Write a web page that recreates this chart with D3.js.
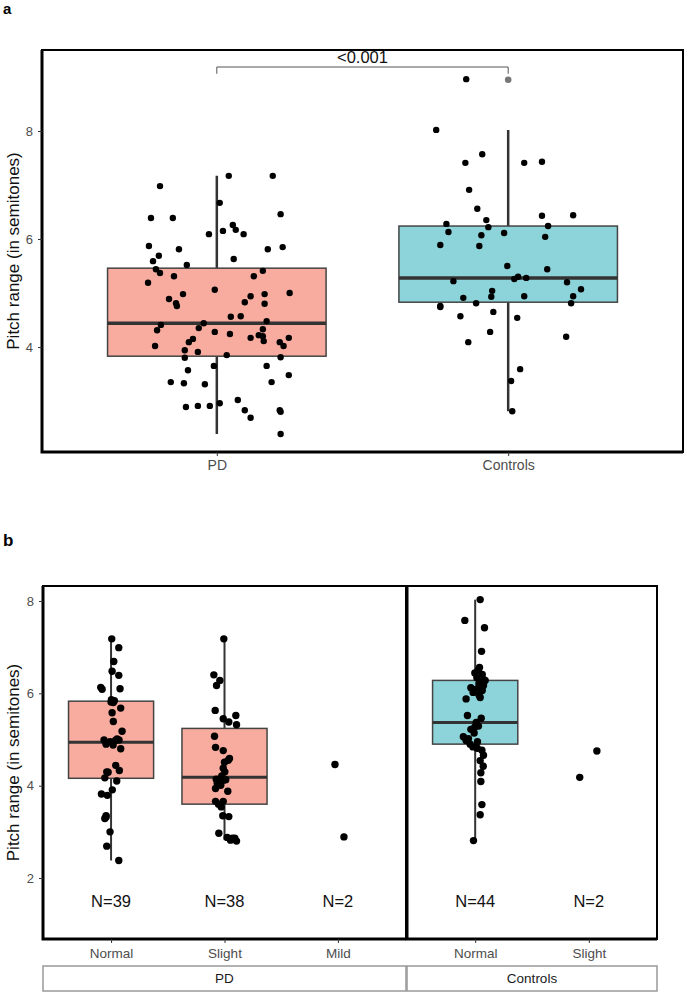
<!DOCTYPE html>
<html>

<head>
  <meta charset="utf-8">
  <script src="https://d3js.org/d3.v7.min.js"></script>

  <style>
    body {
      margin: 0;
      background: #fff;
    }

    text {
      font-family: "Liberation Sans", Arial, sans-serif;
    }

    .tick text {
      fill: #4d4d4d;
    }

    .tick line {
      stroke: #333;
    }
  </style>
</head>

<body>
  <script type="text/javascript">
    /*
      Data
    */

    // panel a: [jitter offset (in category steps), pitch range]
    var groupsA = ["PD", "Controls"];

    var pdA = [
      [-0.195, 6.98], [-0.226, 6.39], [-0.151, 6.39], [0.041, 7.17], [0.192, 7.17],
      [0.010, 6.67], [0.219, 6.46], [0.055, 6.26], [0.065, 6.17], [0.092, 6.09],
      [0.021, 6.15], [-0.027, 6.09], [-0.233, 5.87], [0.175, 5.81], [0.226, 5.85],
      [-0.130, 5.81], [-0.219, 5.59], [-0.199, 5.69], [0.058, 5.63], [-0.103, 5.52],
      [-0.209, 5.44], [-0.195, 5.37], [-0.236, 5.19], [-0.147, 5.31], [0.127, 5.31],
      [0.158, 5.41], [-0.007, 5.06], [-0.116, 4.98], [0.164, 4.98], [0.250, 5.00],
      [-0.164, 4.89], [-0.140, 4.81], [-0.137, 4.76], [0.116, 4.94], [0.096, 4.83],
      [0.164, 4.80], [0.048, 4.56], [0.082, 4.57], [0.171, 4.48], [-0.045, 4.44],
      [-0.192, 4.41], [-0.205, 4.31], [-0.062, 4.35], [-0.007, 4.28], [0.158, 4.33],
      [0.045, 4.24], [0.144, 4.22], [0.158, 4.20], [0.116, 4.17], [0.247, 4.17],
      [-0.082, 4.15], [-0.096, 4.09], [0.161, 4.11], [0.216, 4.09], [-0.212, 4.02],
      [0.229, 4.02], [-0.110, 3.94], [-0.065, 3.91], [0.034, 3.85], [-0.110, 3.80],
      [0.219, 3.81], [-0.099, 3.57], [-0.010, 3.65], [0.171, 3.65], [0.247, 3.48],
      [-0.158, 3.35], [-0.113, 3.33], [-0.041, 3.31], [0.188, 3.35], [-0.106, 2.89],
      [-0.065, 2.91], [-0.024, 2.91], [0.010, 2.96], [0.072, 3.02], [0.096, 2.83],
      [0.116, 2.69], [0.216, 2.83], [0.219, 2.80], [0.219, 2.39]
    ];

    var controlsA = [
      [-0.144, 8.96], [-0.247, 8.02], [-0.089, 7.57], [-0.147, 7.41], [0.055, 7.41],
      [0.116, 7.43], [-0.134, 6.91], [-0.106, 6.56], [0.116, 6.43], [0.223, 6.44],
      [-0.075, 6.35], [-0.212, 6.28], [-0.068, 6.22], [0.137, 6.24], [-0.205, 6.13],
      [-0.014, 6.11], [-0.092, 6.07], [0.127, 6.04], [-0.233, 5.89], [-0.099, 5.87],
      [-0.003, 5.50], [0.134, 5.44], [-0.188, 5.22], [0.021, 5.26], [0.034, 5.30],
      [0.062, 5.28], [0.202, 5.20], [-0.055, 5.04], [-0.154, 4.91], [-0.058, 4.93],
      [0.055, 4.94], [0.250, 5.07], [0.223, 4.94], [-0.110, 4.81], [0.216, 4.81],
      [-0.233, 4.76], [-0.233, 4.74], [-0.051, 4.65], [-0.164, 4.57], [0.031, 4.54],
      [-0.062, 4.28], [0.199, 4.19], [-0.137, 4.09], [0.041, 3.59], [0.010, 3.37],
      [0.014, 2.81]
    ];

    // box stats: [lower whisker, q1, median, q3, upper whisker]
    var boxA = [
      [2.39, 3.83, 4.44, 5.46, 7.17],
      [2.81, 4.83, 5.28, 6.24, 8.02]
    ];
    var outliersA = [["Controls", 8.95]];
    var pLabel = "<0.001";

    // panel b
    var facetsB = ["PD", "Controls"];
    var severityPD = ["Normal", "Slight", "Mild"];
    var severityControls = ["Normal", "Slight"];

    var pdNormal = [
      [0.006, 7.18], [0.068, 6.99], [0.024, 6.69], [0.009, 6.48], [0.068, 6.39],
      [-0.091, 6.13], [-0.079, 6.09], [0.079, 6.10], [0.003, 5.86], [0.029, 5.84],
      [0.020, 5.80], [0.000, 5.81], [0.085, 5.68], [0.009, 5.58], [0.020, 5.39],
      [0.097, 5.18], [-0.062, 4.99], [0.070, 4.99], [0.053, 5.01], [-0.044, 4.90],
      [-0.009, 4.95], [0.038, 4.98], [0.085, 4.80], [0.018, 4.88], [0.041, 4.44],
      [0.073, 4.33], [-0.038, 4.30], [-0.026, 4.29], [-0.055, 4.17], [0.050, 4.10],
      [0.011, 3.91], [-0.085, 3.82], [-0.033, 3.79], [-0.044, 3.35], [-0.055, 3.29],
      [-0.044, 3.32], [-0.009, 3.00], [-0.038, 2.69], [0.068, 2.38]
    ];
    var pdSlight = [
      [-0.006, 7.18], [-0.094, 6.40], [-0.041, 6.28], [-0.070, 6.17], [-0.082, 5.63],
      [-0.011, 5.45], [0.038, 5.38], [0.100, 5.52], [0.106, 5.32], [-0.088, 5.07],
      [-0.079, 4.83], [-0.011, 4.76], [0.044, 4.59], [0.033, 4.55], [-0.011, 4.38],
      [0.003, 4.30], [-0.024, 4.21], [-0.073, 4.14], [-0.006, 4.12], [0.011, 4.13],
      [-0.064, 4.05], [-0.033, 4.01], [-0.079, 3.94], [0.029, 3.88], [-0.079, 3.66],
      [-0.011, 3.66], [-0.029, 3.54], [-0.015, 3.35], [0.038, 3.33], [-0.050, 2.97],
      [0.024, 2.88], [0.053, 2.82], [0.091, 2.86], [0.106, 2.80], [-0.044, 4.14],
      [0.000, 4.51], [0.070, 2.86], [-0.053, 3.60]
    ];
    var pdMild = [[-0.026, 4.46], [0.053, 2.89]];
    var controlsNormal = [
      [0.044, 8.03], [-0.091, 7.58], [0.082, 7.42], [0.056, 6.91], [0.038, 6.56],
      [-0.003, 6.44], [0.062, 6.41], [0.015, 6.34], [0.073, 6.30], [0.033, 6.21],
      [0.073, 6.17], [-0.038, 6.12], [-0.009, 6.08], [0.062, 6.06], [0.044, 5.91],
      [-0.080, 5.88], [-0.068, 5.52], [0.053, 5.46], [0.029, 5.29], [-0.038, 5.22],
      [-0.003, 5.27], [-0.104, 5.06], [-0.059, 5.02], [0.020, 4.95], [-0.020, 4.84],
      [0.059, 4.77], [0.073, 4.66], [0.044, 4.54], [0.050, 4.28], [0.050, 4.09],
      [0.059, 3.59], [0.044, 3.37], [-0.015, 2.81], [0.027, 6.50], [0.088, 6.28],
      [-0.018, 6.02], [0.035, 5.96], [0.009, 5.37], [-0.009, 5.14], [-0.080, 4.98],
      [-0.044, 4.90], [0.018, 4.81], [0.071, 4.42], [0.027, 6.11]
    ];
    var controlsSlight = [[0.071, 4.75], [-0.080, 4.18]];

    // box stats per facet/severity (null = no box drawn)
    var boxPD = [
      [2.38, 4.16, 4.94, 5.83, 7.19],
      [2.82, 3.60, 4.18, 5.24, 7.19],
      null
    ];
    var boxControls = [
      [2.80, 4.90, 5.37, 6.28, 8.03],
      null
    ];

    var ticksA = [4, 6, 8];
    var ticksB = [2, 4, 6, 8];
    var yTitle = "Pitch range (in semitones)";

    var pdFill = "#F8AC9F";
    var controlsFill = "#8CD4D9";

    /*
      Setup
    */
    var svg = d3.select("body")
      .append("svg")
      .attr("width", 685)
      .attr("height", 993);

    function drawBox(g, cx, w, s, y, fill, lw) {
      g.append("line")
        .attr("x1", cx).attr("x2", cx)
        .attr("y1", y(s[0])).attr("y2", y(s[4]))
        .attr("stroke", "#333").attr("stroke-width", lw.whisker);
      g.append("rect")
        .attr("x", cx - w / 2)
        .attr("width", w)
        .attr("y", y(s[3]))
        .attr("height", y(s[1]) - y(s[3]))
        .attr("fill", fill)
        .attr("stroke", "#444").attr("stroke-width", 1.5);
      g.append("line")
        .attr("x1", cx - w / 2).attr("x2", cx + w / 2)
        .attr("y1", y(s[2])).attr("y2", y(s[2]))
        .attr("stroke", "#333").attr("stroke-width", lw.median);
    }

    function drawDots(g, pts, cx, step, y, r) {
      g.selectAll(null)
        .data(pts)
        .enter().append("circle")
        .attr("cx", function(d) { return cx + d[0] * step; })
        .attr("cy", function(d) { return y(d[1]); })
        .attr("r", r)
        .attr("fill", "#000");
    }

    function styleAxis(g, size) {
      g.select(".domain").remove();
      g.selectAll(".tick text").style("font-size", size + "px");
    }

    /*
      Panel a
    */
    var a = { left: 42, right: 683, top: 50, bottom: 452 };

    var yA = d3.scaleLinear()
      .domain([2.056, 9.5])
      .range([a.bottom, a.top]);

    var xA = d3.scalePoint()
      .domain(groupsA)
      .range([a.left, a.right])
      .padding(0.6);

    var gA = svg.append("g").attr("class", "panel-a");

    var fillsA = [pdFill, controlsFill];
    groupsA.forEach(function(grp, i) {
      drawBox(gA, xA(grp), xA.step() * 0.75, boxA[i], yA, fillsA[i], { whisker: 2.5, median: 3.5 });
    });

    gA.selectAll(null)
      .data(outliersA)
      .enter().append("circle")
      .attr("cx", function(d) { return xA(d[0]); })
      .attr("cy", function(d) { return yA(d[1]); })
      .attr("r", 3.3)
      .attr("fill", "#777");

    drawDots(gA, pdA, xA("PD"), xA.step(), yA, 3.2);
    drawDots(gA, controlsA, xA("Controls"), xA.step(), yA, 3.2);

    // significance bracket
    var bracketY = 9.185, bracketTip = 9.06;
    gA.append("path")
      .attr("d", "M" + xA("PD") + "," + yA(bracketTip) +
        "V" + yA(bracketY) + "H" + xA("Controls") + "V" + yA(bracketTip))
      .attr("fill", "none")
      .attr("stroke", "#555")
      .attr("stroke-width", 1);
    gA.append("text")
      .attr("x", (xA("PD") + xA("Controls")) / 2)
      .attr("y", yA(bracketY) - 4)
      .attr("text-anchor", "middle")
      .style("font-size", "16.5px")
      .attr("fill", "#111")
      .text(pLabel);

    // frame
    gA.append("rect")
      .attr("x", a.left).attr("y", a.top)
      .attr("width", a.right - a.left).attr("height", a.bottom - a.top)
      .attr("fill", "none").attr("stroke", "#000").attr("stroke-width", 2);
    gA.append("path")
      .attr("d", "M" + a.left + "," + a.top + "V" + a.bottom + "H" + a.right)
      .attr("fill", "none").attr("stroke", "#000").attr("stroke-width", 3);

    gA.append("g")
      .attr("transform", "translate(" + a.left + ",0)")
      .call(d3.axisLeft(yA).tickValues(ticksA).tickSize(4).tickPadding(5))
      .call(styleAxis, 13);

    gA.append("g")
      .attr("transform", "translate(0," + a.bottom + ")")
      .call(d3.axisBottom(xA).tickSize(4).tickPadding(4))
      .call(styleAxis, 14);

    gA.append("text")
      .attr("transform", "translate(19," + (a.top + a.bottom) / 2 + ") rotate(-90)")
      .attr("text-anchor", "middle")
      .style("font-size", "17px")
      .attr("fill", "#111")
      .text(yTitle);

    svg.append("text")
      .attr("x", 3).attr("y", 14)
      .style("font-size", "15px").style("font-weight", "bold")
      .text("a");

    /*
      Panel b
    */
    var b = { top: 586, bottom: 939, left: 43, split: 406, right: 657, stripTop: 966, stripBottom: 991 };

    var yB = d3.scaleLinear()
      .domain([0.679, 8.325])
      .range([b.bottom, b.top]);

    var facetRanges = [[b.left, b.split], [b.split + 1, b.right]];
    var facetCats = [severityPD, severityControls];
    var facetPts = [[pdNormal, pdSlight, pdMild], [controlsNormal, controlsSlight]];
    var facetBoxes = [boxPD, boxControls];
    var facetFill = [pdFill, controlsFill];

    var gB = svg.append("g").attr("class", "panel-b");

    facetsB.forEach(function(facet, f) {
      var x = d3.scalePoint()
        .domain(facetCats[f])
        .range(facetRanges[f])
        .padding(0.6);
      var g = gB.append("g");

      facetCats[f].forEach(function(cat, i) {
        if (facetBoxes[f][i]) {
          drawBox(g, x(cat), x.step() * 0.75, facetBoxes[f][i], yB, facetFill[f], { whisker: 2, median: 3 });
        }
      });
      facetCats[f].forEach(function(cat, i) {
        drawDots(g, facetPts[f][i], x(cat), x.step(), yB, 3.7);
        g.append("text")
          .attr("x", x(cat))
          .attr("y", yB(1.5))
          .attr("dy", "0.35em")
          .attr("text-anchor", "middle")
          .style("font-size", "16.5px")
          .attr("fill", "#111")
          .text("N=" + facetPts[f][i].length);
      });

      var r = facetRanges[f];
      g.append("rect")
        .attr("x", r[0]).attr("y", b.top)
        .attr("width", r[1] - r[0]).attr("height", b.bottom - b.top)
        .attr("fill", "none").attr("stroke", "#000").attr("stroke-width", 2);
      g.append("path")
        .attr("d", "M" + r[0] + "," + b.top + "V" + b.bottom + "H" + r[1])
        .attr("fill", "none").attr("stroke", "#000").attr("stroke-width", 3);

      g.append("g")
        .attr("transform", "translate(0," + b.bottom + ")")
        .call(d3.axisBottom(x).tickSize(4).tickPadding(5))
        .call(styleAxis, 13.5);

      // strip
      g.append("rect")
        .attr("x", r[0]).attr("y", b.stripTop)
        .attr("width", r[1] - r[0]).attr("height", b.stripBottom - b.stripTop)
        .attr("fill", "#fff").attr("stroke", "#999").attr("stroke-width", 1.5);
      g.append("text")
        .attr("x", (r[0] + r[1]) / 2)
        .attr("y", (b.stripTop + b.stripBottom) / 2)
        .attr("dy", "0.35em")
        .attr("text-anchor", "middle")
        .style("font-size", "13.5px")
        .attr("fill", "#1a1a1a")
        .text(facet);
    });

    gB.append("g")
      .attr("transform", "translate(" + b.left + ",0)")
      .call(d3.axisLeft(yB).tickValues(ticksB).tickSize(4).tickPadding(5))
      .call(styleAxis, 13);

    gB.append("text")
      .attr("transform", "translate(19," + (b.top + b.bottom) / 2 + ") rotate(-90)")
      .attr("text-anchor", "middle")
      .style("font-size", "17px")
      .attr("fill", "#111")
      .text(yTitle);

    svg.append("text")
      .attr("x", 3).attr("y", 546)
      .style("font-size", "17px").style("font-weight", "bold")
      .text("b");
  </script>
</body>

</html>
